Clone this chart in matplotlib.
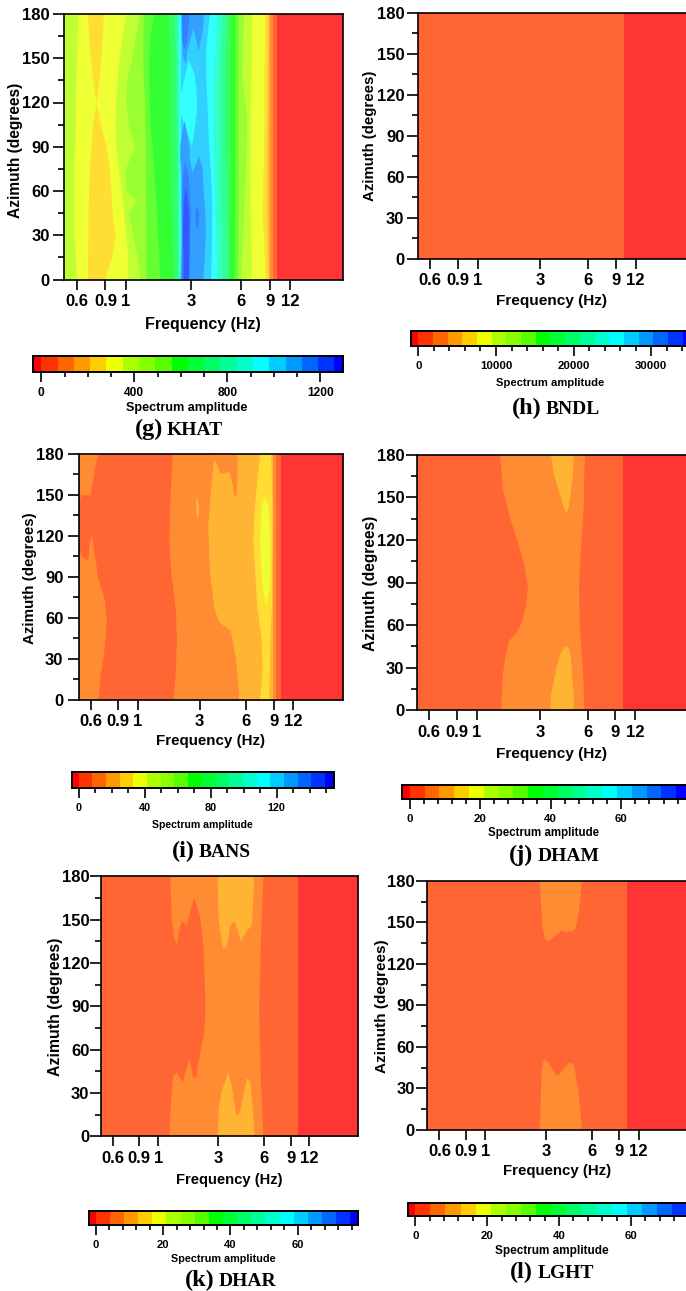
import matplotlib
matplotlib.use("Agg")
import matplotlib.pyplot as plt
from matplotlib.colors import ListedColormap
from matplotlib.ticker import FixedLocator, NullLocator
from matplotlib.transforms import Affine2D

W, H = 686, 1291
FMIN, FMAX = 0.5, 25.0

# ---------- shared axis values ----------
freq_ticks = [0.6, 0.9, 1.2, 3, 6, 9, 12]
freq_labels = ["0.6", "0.9", "1", "3", "6", "9", "12"]
az_major = [0, 30, 60, 90, 120, 150, 180]
az_minor = [15, 45, 75, 105, 135, 165]

# colour of each amplitude band in the maps (washed out) and in the colour bars
band_colors = ["#FF3535", "#FF6633", "#FF8C33", "#FFB433", "#FFDD33", "#EEFF33",
               "#C0FF33", "#99FF33", "#66FF33", "#33FF33", "#33FF66", "#33FF99",
               "#33FFCC", "#33FFFF", "#33D0FF", "#33A0FF", "#3380FF", "#3358FF"]
bar_colors = ["#FF0000", "#FF3300", "#FF6600", "#FF9900", "#FFCC00", "#EEFF00",
              "#AAFF00", "#88FF00", "#55FF00", "#00FF00", "#00FF33", "#00FF66",
              "#00FF99", "#00FFCC", "#00FFFF", "#00CCFF", "#0099FF", "#0066FF",
              "#0033FF", "#0000FF"]

# ---------- KHAT: contour boundary frequency (Hz) at azimuth (deg) ----------
khat_az = [180, 165, 150, 135, 120, 105, 90, 75, 60, 54, 45, 30, 15, 0]
khat_f5a = [.61, .605, .60, .595, .59, .59, .585, .58, .58, .58, .58, .58, .59, .60]
khat_f4 = [.70, .71, .73, .755, .79, .75, .735, .72, .71, .71, .705, .705, .70, .70]
khat_f5b = [.875, .86, .845, .82, .79, .84, .91, .95, .97, .98, .99, 1.03, .98, .89]
khat_f6 = [1.20, 1.14, 1.09, 1.06, 1.04, 1.03, 1.045, 1.08, 1.12, 1.14, 1.16, 1.20, 1.23, 1.23]
khat_f7 = [1.45, 1.37, 1.30, 1.21, 1.20, 1.24, 1.35, 1.19, 1.20, 1.38, 1.24, 1.32, 1.41, 1.46]
khat_f8 = [1.53, 1.52, 1.52, 1.53, 1.56, 1.56, 1.58, 1.58, 1.58, 1.58, 1.59, 1.59, 1.59, 1.59]
khat_f9 = [1.77, 1.68, 1.655, 1.655, 1.67, 1.68, 1.73, 1.77, 1.80, 1.82, 1.84, 1.87, 1.91, 1.92]
khat_az4 = [180, 120, 60, 0]
khat_f10 = [2.17, 2.20, 2.24, 2.33]
khat_f11 = [2.38, 2.42, 2.44, 2.46]
khat_f12 = [2.46, 2.49, 2.51, 2.52]
khat_f13 = [2.52, 2.53, 2.56, 2.57]
khat_f14 = [2.58, 2.58, 2.58, 2.58]
khat_az8 = [180, 157, 135, 112, 90, 68, 45, 0]
khat_r13 = [3.86, 3.68, 3.68, 3.76, 3.83, 3.94, 4.0, 3.94]
khat_r12 = [4.29, 4.19, 4.05, 4.05, 4.09, 4.13, 4.19, 4.29]
khat_r11 = [4.6, 4.49, 4.45, 4.49, 4.49, 4.49, 4.53, 4.6]
khat_r10 = [4.93, 4.82, 4.82, 4.82, 4.82, 4.88, 4.93, 4.98]
khat_az2 = [180, 0]
khat_r9 = [5.17, 5.17]
khat_r8 = [5.55, 5.47]
khat_r7 = [5.8, 5.75]
khat_az7 = [180, 135, 112, 90, 68, 45, 0]
khat_r6 = [6.24, 6.09, 6.54, 6.48, 6.38, 6.24, 6.0]
khat_az3 = [180, 90, 0]
khat_r5 = [6.95, 6.85, 6.92]
khat_azq = [180, 90, 45, 0]
khat_r4 = [8.39, 8.27, 8.12, 8.47]
khat_r3 = [8.8, 8.67, 8.67, 8.8]
khat_r2 = [9.1, 9.1]
khat_r1 = [9.4, 9.4]
khat_r0 = [10.0, 10.0]

# KHAT closed contour regions: azimuth, left and right frequency
kh_up15_az = [180, 171, 164, 155]
kh_up15_l = [2.60, 2.60, 2.62, 2.65]
kh_up15_r = [3.55, 3.52, 3.42, 3.31]
kh_wedge_az = [171, 165, 160, 155]
kh_wedge_l = [3.08, 2.97, 2.90, 2.81]
kh_wedge_r = [3.08, 3.15, 3.23, 3.31]
kh_strip_az = [155, 150, 146]
kh_strip_l = [2.62, 2.68, 2.77]
kh_strip_r = [2.81, 2.79, 2.77]
kh_up16_az = [180, 170, 160, 157]
kh_up16_l = [2.62, 2.63, 2.65, 2.70]
kh_up16_r = [2.90, 2.87, 2.79, 2.70]
kh_cy_az = [149, 140, 130, 122, 115, 105, 98, 91]
kh_cy_l = [2.875, 2.75, 2.62, 2.53, 2.53, 2.71, 2.84, 3.0]
kh_cy_r = [2.875, 3.11, 3.19, 3.23, 3.23, 3.15, 3.08, 3.01]
kh_sp_az = [108, 100, 90, 84]
kh_sp_l = [2.71, 2.62, 2.55, 2.55]
kh_sp_r = [2.71, 2.81, 2.91, 2.91]
kh_lo15_az = [84, 78, 73, 60, 45, 30, 15, 0]
kh_lo15_l = [2.55, 2.57, 2.59, 2.6, 2.6, 2.62, 2.6, 2.56]
kh_lo15_r = [3.31, 3.45, 3.50, 3.55, 3.63, 3.65, 3.6, 3.52]
kh_notch_az = [84, 78, 73]
kh_notch_l = [2.91, 2.97, 3.01]
kh_notch_r = [3.31, 3.18, 3.01]
kh_lo16_az = [80, 70, 60, 45, 30, 15, 0]
kh_lo16_l = [2.73, 2.65, 2.63, 2.63, 2.62, 2.62, 2.62]
kh_lo16_r = [2.73, 2.875, 2.91, 2.97, 2.94, 2.94, 2.91]
kh_lo17_az = [63, 50, 34, 15, 0]
kh_lo17_l = [2.75, 2.67, 2.65, 2.67, 2.68]
kh_lo17_r = [2.75, 2.875, 2.89, 2.89, 2.875]
kh_sm_az = [51, 45, 38, 35]
kh_sm_l = [3.23, 3.16, 3.18, 3.23]
kh_sm_r = [3.23, 3.33, 3.31, 3.23]

# ---------- BNDL ----------
bndl_az = [180, 0]
bndl_f0 = [10.1, 10.1]

# ---------- BANS ----------
bans_l1_az = [180, 170, 160, 151, 121, 110, 100, 92, 73, 59, 34, 19, 0]
bans_l1_f = [.665, .633, .612, .594, .603, .624, .643, .656, .731, .754, .724, .688, .665]
bans_n_az = [150, 149, 140, 130, 121, 115, 106, 102]
bans_n_l = [.512, .512, .50, .50, .50, .50, .512, .571]
bans_n_r = [.60, .60, .60, .603, .603, .582, .576, .571]
bans_b2_az = [180, 141, 117, 92, 68, 44, 19, 0]
bans_b2_f = [2.0, 1.92, 1.90, 1.96, 2.09, 2.13, 2.09, 2.01]
bans_b3_az = [180, 176.6, 158.3, 126.6, 92.4, 68, 57, 51, 31.5, 7, 0]
bans_b3_f = [3.75, 3.69, 3.55, 3.38, 3.48, 3.69, 3.97, 4.72, 5.09, 5.34, 5.34]
bans_t_f = [3.6, 5.26, 5.26, 5.21, 5.03, 4.84, 4.61, 4.39, 4.07, 3.93, 3.69]
bans_t_az = [180, 180, 165.6, 149.8, 149, 160.7, 167.3, 165.6, 165.6, 170.5, 176.6]
bans_s_f = [2.88, 2.98, 2.97, 2.88, 2.84]
bans_s_az = [149, 141, 135, 132.7, 141]
bans_b4_az = [180, 141, 117, 68, 44, 19, 0]
bans_b4_f = [7.29, 6.74, 6.6, 7.0, 7.47, 7.55, 7.29]
bans_b5_az = [149, 141, 117, 92.4, 80, 69]
bans_b5_l = [7.81, 7.47, 7.29, 7.47, 7.62, 8.01]
bans_b5_r = [7.81, 8.3, 8.45, 8.45, 8.33, 8.01]
bans_r3_az = [180, 141, 68, 44, 0]
bans_r3_f = [8.6, 8.8, 8.7, 8.5, 8.35]
bans_r2 = [8.85, 8.85]
bans_r1 = [9.25, 9.25]
bans_r0 = [10.05, 10.05]
edge_az = [180, 0]

# ---------- DHAM ----------
dham_l_az = [180, 155, 131.7, 113, 103.5, 87, 73, 61.3, 54.2, 49.5, 37.8, 26, 0]
dham_l_f = [1.67, 1.74, 1.98, 2.24, 2.37, 2.50, 2.43, 2.27, 2.10, 1.915, 1.80, 1.74, 1.69]
dham_r_az = [180, 143.4, 108, 87, 61.3, 26, 0]
dham_r_f = [5.72, 5.63, 5.37, 5.26, 5.31, 5.58, 5.69]
dham_top_az = [180, 167, 155, 143.4, 139.2]
dham_top_l = [3.50, 3.64, 3.91, 4.21, 4.37]
dham_top_r = [4.87, 4.82, 4.68, 4.53, 4.37]
dham_bot_az = [45.5, 43.7, 40, 30.7, 26, 12, 0]
dham_bot_l = [4.37, 4.18, 4.01, 3.80, 3.73, 3.50, 3.46]
dham_bot_r = [4.37, 4.52, 4.64, 4.73, 4.75, 4.87, 4.87]
dham_r0 = [10.1, 10.1]

# ---------- DHAR ----------
dhar_l_f = [.5, 1.44, 1.475, 1.53, 1.59, 1.65, 1.72, 1.85, 1.95, 2.08, 2.27, 2.39, 2.45,
            2.45, 2.39, 2.21, 2.14, 2.05, 1.93, 1.81, 1.74, 1.59, 1.51, 1.46, 1.42, .5]
dhar_l_az = [180, 180, 149.9, 137.2, 133, 141.8, 149.4, 146, 155.7, 165.4, 152, 131.4, 99,
             80.6, 69, 50.6, 41.3, 40.2, 53.6, 43.6, 37.2, 44.3, 41.3, 25.2, 0, 0]
dhar_top_f = [2.96, 5.18, 5.0, 4.92, 4.51, 4.23, 4.01, 3.82, 3.59, 3.41, 3.21, 3.01]
dhar_top_az = [180, 180, 146.4, 145.3, 140.6, 134.4, 143, 149.4, 145.3, 131, 129.6, 149.9]
dhar_bot_f = [2.98, 3.01, 3.16, 3.50, 3.68, 3.94, 4.18, 4.63, 4.87, 5.13, 5.18]
dhar_bot_az = [0, 18.2, 32.1, 44.3, 34.4, 13.6, 17.1, 40.2, 37.9, 11.3, 0]
dhar_r_az = [180, 145.3, 89.8, 41.3, 0]
dhar_r_f = [5.91, 5.73, 5.53, 5.67, 5.91]
dhar_r0 = [10.0, 10.0]

# ---------- LGHT ----------
lght_bot_f = [2.72, 2.76, 2.79, 2.86, 2.96, 3.16, 3.40, 3.58, 3.86, 4.27, 4.53, 4.84, 5.14]
lght_bot_az = [0, 26, 41, 49, 51, 47, 41, 39, 44, 48.5, 47.5, 29, 0]
lght_top_f = [2.72, 2.76, 2.83, 2.93, 3.08, 3.40, 3.73, 4.06, 4.60, 4.84, 5.03, 5.11]
lght_top_az = [180, 166, 147, 138.5, 136, 140, 144, 143, 144.5, 154, 171, 180]
lght_r0 = [10.06, 10.06]

# ---------- colour bar scales ----------
bar_g = (-38, 1295, 70, [0, 400, 800, 1200], 100)
bar_h = (-940, 35100, 1890, [0, 10000, 20000, 30000], 2000)
bar_i = (-4.2, 155, 8.3, [0, 40, 80, 120], 10)
bar_j = (-2.1, 79.5, 4.2, [0, 20, 40, 60], 4)
bar_k = (-2.1, 77.8, 4.2, [0, 20, 40, 60], 4)
bar_l = (-2.1, 76.4, 4.2, [0, 20, 40, 60], 4)

SANS = "Liberation Sans"
SERIF = "Liberation Serif"
fig = plt.figure(figsize=(W / 100, H / 100), dpi=100, facecolor="white")
px = Affine2D().scale(1, -1).translate(0, H)


def rect(l, t, r, b):
    return [l / W, 1 - b / H, (r - l) / W, (b - t) / H]


def make_map(l, t, r, b, xlab, ylab, xsize, ysize, ypad, hide_right=False):
    ax = fig.add_axes(rect(l, t, r, b))
    ax.set_xscale("log")
    ax.set_xlim(FMIN, FMAX)
    ax.set_ylim(0, 180)
    ax.xaxis.set_major_locator(FixedLocator(freq_ticks))
    ax.xaxis.set_minor_locator(NullLocator())
    ax.set_xticklabels(freq_labels, fontfamily=SANS, fontweight="bold", fontsize=12)
    ax.set_yticks(az_major)
    ax.set_yticks(az_minor, minor=True)
    ax.set_yticklabels([str(v) for v in az_major], fontfamily=SANS, fontweight="bold", fontsize=12)
    ax.tick_params(axis="x", which="major", length=7.4, width=1.2, pad=3)
    ax.tick_params(axis="y", which="major", length=7.6, width=1.2, pad=ypad)
    ax.tick_params(axis="y", which="minor", length=4.2, width=1.2)
    for s in ax.spines.values():
        s.set_linewidth(1.2)
        s.set_zorder(20)
    if hide_right:
        ax.spines["right"].set_visible(False)
    ax.set_xlabel("Frequency (Hz)", fontfamily=SANS, fontweight="bold", fontsize=xsize)
    ax.set_ylabel("Azimuth (degrees)", fontfamily=SANS, fontweight="bold", fontsize=ysize)
    ax.xaxis.set_label_coords(xlab[0], xlab[1] + 1.5, transform=px)
    ax.yaxis.set_label_coords(ylab[0] + 1, ylab[1], transform=px)
    ax.xaxis.label.set_va("center")
    ax.yaxis.label.set_va("center")
    ax.set_facecolor(band_colors[1])
    return ax


def to_right(ax, az, f, band):
    ax.fill_betweenx(az, f, [FMAX] * len(az), color=band_colors[band], linewidth=0)


def between(ax, az, lft, rgt, band):
    ax.fill_betweenx(az, lft, rgt, color=band_colors[band], linewidth=0)


def poly(ax, f, az, band):
    ax.fill(f, az, color=band_colors[band], linewidth=0)


def make_bar(l, t, r, b, scale, lab_xy, lab_size, tick_size, name, title_paren, title_xy):
    vmin, vmax, step, majors, minor = scale
    ax = fig.add_axes(rect(l, t, r, b))
    edges = [vmin] + [step * i for i in range(19)] + [vmax]
    ax.pcolormesh(edges, [0, 1], [list(range(20))], cmap=ListedColormap(bar_colors),
                  vmin=-0.5, vmax=19.5)
    ax.set_xlim(vmin, vmax)
    ax.set_yticks([])
    ax.set_xticks(majors)
    ax.set_xticks([v * minor for v in range(0, int(vmax / minor) + 1)
                   if v * minor not in majors], minor=True)
    ax.set_xticklabels([str(v) for v in majors], fontfamily=SANS, fontweight="bold", fontsize=tick_size)
    ax.tick_params(axis="x", which="major", length=7.2, width=1.2, pad=3.5)
    ax.tick_params(axis="x", which="minor", length=3.6, width=1.2)
    for s in ax.spines.values():
        s.set_linewidth(1.4)
    ax.set_xlabel("Spectrum amplitude", fontfamily=SANS, fontweight="bold", fontsize=lab_size)
    ax.xaxis.set_label_coords(lab_xy[0], lab_xy[1] + 1, transform=px)
    ax.xaxis.label.set_va("center")
    fig.text(title_xy[0] - 1, title_xy[1], title_paren, transform=px, ha="right", va="baseline",
             fontfamily=SERIF, fontweight="bold", fontsize=17.5)
    fig.text(title_xy[0] + 3, title_xy[1], name, transform=px, ha="left", va="baseline",
             fontfamily=SERIF, fontweight="bold", fontsize=14)
    return ax


# ---------- (g) KHAT ----------
ax = make_map(63.5, 14, 342.5, 279.5, (203.3, 322.7), (15, 150), 11.5, 11.2, 2.4)
ax.set_facecolor(band_colors[6])
for band, f in [(5, khat_f5a), (4, khat_f4), (5, khat_f5b), (6, khat_f6), (7, khat_f7),
                (8, khat_f8), (9, khat_f9)]:
    to_right(ax, khat_az, f, band)
for band, f in [(10, khat_f10), (11, khat_f11), (12, khat_f12), (13, khat_f13), (14, khat_f14)]:
    to_right(ax, khat_az4, f, band)
for band, f in [(13, khat_r13), (12, khat_r12), (11, khat_r11), (10, khat_r10)]:
    to_right(ax, khat_az8, f, band)
for band, f in [(9, khat_r9), (8, khat_r8), (7, khat_r7)]:
    to_right(ax, khat_az2, f, band)
to_right(ax, khat_az7, khat_r6, 6)
to_right(ax, khat_az3, khat_r5, 5)
to_right(ax, khat_azq, khat_r4, 4)
to_right(ax, khat_azq, khat_r3, 3)
for band, f in [(2, khat_r2), (1, khat_r1), (0, khat_r0)]:
    to_right(ax, khat_az2, f, band)
between(ax, kh_up15_az, kh_up15_l, kh_up15_r, 15)
between(ax, kh_wedge_az, kh_wedge_l, kh_wedge_r, 14)
between(ax, kh_strip_az, kh_strip_l, kh_strip_r, 15)
between(ax, kh_up16_az, kh_up16_l, kh_up16_r, 16)
between(ax, kh_cy_az, kh_cy_l, kh_cy_r, 13)
between(ax, kh_sp_az, kh_sp_l, kh_sp_r, 15)
between(ax, kh_lo15_az, kh_lo15_l, kh_lo15_r, 15)
between(ax, kh_notch_az, kh_notch_l, kh_notch_r, 14)
between(ax, kh_lo16_az, kh_lo16_l, kh_lo16_r, 16)
between(ax, kh_lo17_az, kh_lo17_l, kh_lo17_r, 17)
between(ax, kh_sm_az, kh_sm_l, kh_sm_r, 16)
make_bar(32.5, 356, 342.5, 372, bar_g, (187, 407), 9.05, 8.6, "KHAT", "(g)", (164, 435))

# ---------- (h) BNDL ----------
ax = make_map(417.5, 12.7, 685.9, 259, (551.7, 299), (369, 135.7), 11.1, 10.85, 1.8, hide_right=True)
to_right(ax, bndl_az, bndl_f0, 0)
make_bar(411, 330.7, 691, 345.7, bar_h, (550, 381.7), 8.15, 8.2, "BNDL", "(h)", (542.7, 414.3))

# ---------- (i) BANS ----------
ax = make_map(78.7, 453.7, 342.7, 699.7, (210.3, 740), (29.0, 578.3), 10.9, 10.9, 3.4)
ax.set_facecolor(band_colors[2])
to_right(ax, bans_l1_az, bans_l1_f, 1)
between(ax, bans_n_az, bans_n_l, bans_n_r, 1)
to_right(ax, bans_b2_az, bans_b2_f, 2)
to_right(ax, bans_b3_az, bans_b3_f, 3)
poly(ax, bans_t_f, bans_t_az, 2)
poly(ax, bans_s_f, bans_s_az, 3)
to_right(ax, bans_b4_az, bans_b4_f, 4)
between(ax, bans_b5_az, bans_b5_l, bans_b5_r, 5)
to_right(ax, bans_r3_az, bans_r3_f, 3)
to_right(ax, edge_az, bans_r2, 2)
to_right(ax, edge_az, bans_r1, 1)
to_right(ax, edge_az, bans_r0, 0)
make_bar(71.7, 772.3, 334.3, 788.3, bar_i, (202.7, 824.3), 7.6, 7.8, "BANS", "(i)", (195.7, 856.7))

# ---------- (j) DHAM ----------
ax = make_map(416.7, 454.7, 685.7, 710.3, (551.7, 752.3), (369.3, 583.3), 11.1, 11.2, 1.2, hide_right=True)
to_right(ax, dham_l_az, dham_l_f, 2)
between(ax, dham_top_az, dham_top_l, dham_top_r, 3)
between(ax, dham_bot_az, dham_bot_l, dham_bot_r, 3)
to_right(ax, dham_r_az, dham_r_f, 1)
to_right(ax, edge_az, dham_r0, 0)
make_bar(402.3, 785, 690, 799, bar_j, (544, 831.7), 8.3, 8.2, "DHAM", "(j)", (534.7, 861))

# ---------- (k) DHAR ----------
ax = make_map(100.7, 876.3, 357.7, 1136.3, (229, 1178.3), (54.3, 1006.7), 10.6, 11.4, 0.5)
ax.set_facecolor(band_colors[2])
poly(ax, dhar_l_f, dhar_l_az, 1)
poly(ax, dhar_top_f, dhar_top_az, 3)
poly(ax, dhar_bot_f, dhar_bot_az, 3)
to_right(ax, dhar_r_az, dhar_r_f, 1)
to_right(ax, edge_az, dhar_r0, 0)
make_bar(88.7, 1210.7, 357.7, 1224.7, bar_k, (223, 1258.3), 7.85, 8.0, "DHAR", "(k)", (215.3, 1286))

# ---------- (l) LGHT ----------
ax = make_map(427.3, 881, 687.3, 1129.7, (557.3, 1170), (381, 1005.7), 10.8, 11.0, 1.6)
poly(ax, lght_bot_f, lght_bot_az, 2)
poly(ax, lght_top_f, lght_top_az, 2)
to_right(ax, edge_az, lght_r0, 0)
make_bar(407.7, 1202.7, 690, 1216.3, bar_l, (551.7, 1250), 8.45, 8.2, "LGHT", "(l)", (534.3, 1278.3))

fig.savefig("out.png", dpi=100)
